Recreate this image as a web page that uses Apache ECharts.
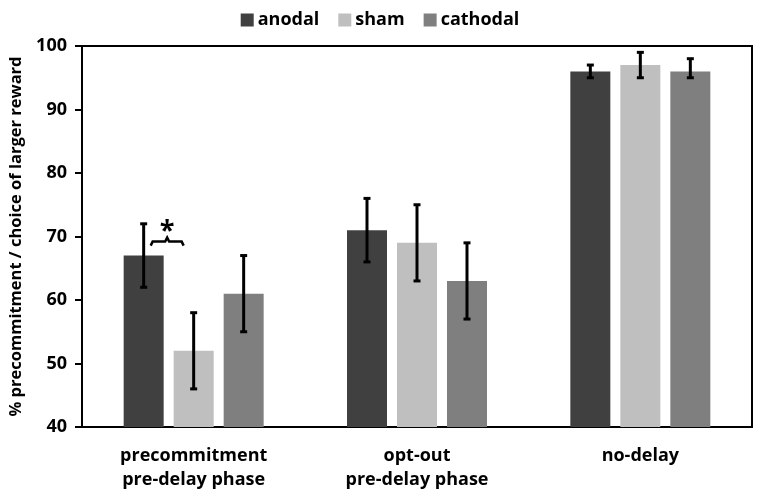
<!DOCTYPE html>
<html>
<head>
<meta charset="utf-8">
<script src="https://cdn.jsdelivr.net/npm/echarts@6/dist/echarts.min.js"></script>
<style>html,body{margin:0;padding:0;background:#fff}#c{width:760px;height:496px}</style>
</head>
<body>
<div id="c"></div>
<script>
const categories = ['precommitment\npre-delay phase', 'opt-out\npre-delay phase', 'no-delay'];
const seriesNames = ['anodal', 'sham', 'cathodal'];
const anodal = [67, 71, 96];
const sham = [52, 69, 97];
const cathodal = [61, 63, 96];
const anodalLow = [62, 66, 95];
const anodalHigh = [72, 76, 97];
const shamLow = [46, 63, 95];
const shamHigh = [58, 75, 99];
const cathodalLow = [55, 57, 95];
const cathodalHigh = [67, 69, 98];
const yTicks = [40, 50, 60, 70, 80, 90, 100];
const sigCategory = 0;
const sigLevel = 69.2;
const yTitle = '% precommitment / choice of larger reward';

const colors = ['#404040', '#bfbfbf', '#7f7f7f'];
const FONT = 'Open Sans';
const BAR_W = 40, GAP = 10;

function errSeries(idx, lows, highs) {
  const offset = (idx - 1) * (BAR_W + GAP);
  return {
    type: 'custom', z: 5, silent: true,
    data: categories.map((c, i) => [i, lows[i], highs[i]]),
    renderItem: function (params, api) {
      const i = api.value(0);
      const lo = api.coord([i, api.value(1)]);
      const hi = api.coord([i, api.value(2)]);
      const x = lo[0] + offset;
      const st = { stroke: '#000', lineWidth: 3 };
      return {
        type: 'group', children: [
          { type: 'line', shape: { x1: x, y1: lo[1], x2: x, y2: hi[1] }, style: st },
          { type: 'line', shape: { x1: x - 3.5, y1: lo[1], x2: x + 3.5, y2: lo[1] }, style: st },
          { type: 'line', shape: { x1: x - 3.5, y1: hi[1], x2: x + 3.5, y2: hi[1] }, style: st }
        ]
      };
    }
  };
}

const chart = echarts.init(document.getElementById('c'), null, { renderer: 'canvas' });
chart.setOption({
  animation: false,
  backgroundColor: '#fff',
  textStyle: { fontFamily: FONT },
  legend: {
    data: seriesNames, left: 'center', top: 6,
    itemWidth: 13, itemHeight: 13, itemGap: 19,
    icon: 'rect',
    textStyle: { fontFamily: FONT, fontWeight: 'bold', fontSize: 18, color: '#000', padding: [0, 0, 0, -1] }
  },
  grid: { left: 82, right: 8, top: 46, bottom: 69, show: true, borderColor: '#000', borderWidth: 2 },
  xAxis: {
    type: 'category', data: categories,
    axisLine: { lineStyle: { color: '#000', width: 2 } },
    axisTick: { show: false },
    axisLabel: { color: '#000', fontFamily: FONT, fontWeight: 'bold', fontSize: 18, lineHeight: 24, margin: 17 }
  },
  yAxis: {
    type: 'value', min: yTicks[0], max: yTicks[yTicks.length - 1], interval: 10,
    name: yTitle, nameLocation: 'middle', nameGap: 56,
    nameTextStyle: { color: '#000', fontFamily: FONT, fontWeight: 'bold', fontSize: 16.5 },
    axisLine: { show: true, lineStyle: { color: '#000', width: 2 } },
    axisTick: { show: true, length: 7, lineStyle: { color: '#000', width: 2 } },
    splitLine: { show: false },
    axisLabel: { color: '#000', fontFamily: FONT, fontWeight: 'bold', fontSize: 18, margin: 15 }
  },
  series: [
    { name: 'anodal', type: 'bar', data: anodal, barWidth: BAR_W, barGap: (GAP / BAR_W * 100) + '%', itemStyle: { color: colors[0] } },
    { name: 'sham', type: 'bar', data: sham, barWidth: BAR_W, barGap: (GAP / BAR_W * 100) + '%', itemStyle: { color: colors[1] } },
    { name: 'cathodal', type: 'bar', data: cathodal, barWidth: BAR_W, barGap: (GAP / BAR_W * 100) + '%', itemStyle: { color: colors[2] } },
    errSeries(0, anodalLow, anodalHigh),
    errSeries(1, shamLow, shamHigh),
    errSeries(2, cathodalLow, cathodalHigh),
    {
      type: 'custom', z: 6, silent: true,
      data: [[sigCategory, sigLevel]],
      renderItem: function (params, api) {
        const p = api.coord([api.value(0), api.value(1)]);
        const x1 = p[0] - 43, x2 = p[0] - 10, xm = (x1 + x2) / 2, y = p[1];
        return {
          type: 'group', children: [
            { type: 'polyline', shape: { points: [[x1, y + 4], [x1 + 2, y], [xm - 2, y], [xm, y - 4], [xm + 2, y], [x2 - 2, y], [x2, y + 4]] },
              style: { stroke: '#000', lineWidth: 2.5, fill: null } },
            { type: 'text', style: { text: '*', x: xm, y: y + 3, textAlign: 'center', textVerticalAlign: 'bottom',
              font: 'bold 27px "' + FONT + '"', fill: '#000' } }
          ]
        };
      }
    }
  ]
});
</script>
</body>
</html>
